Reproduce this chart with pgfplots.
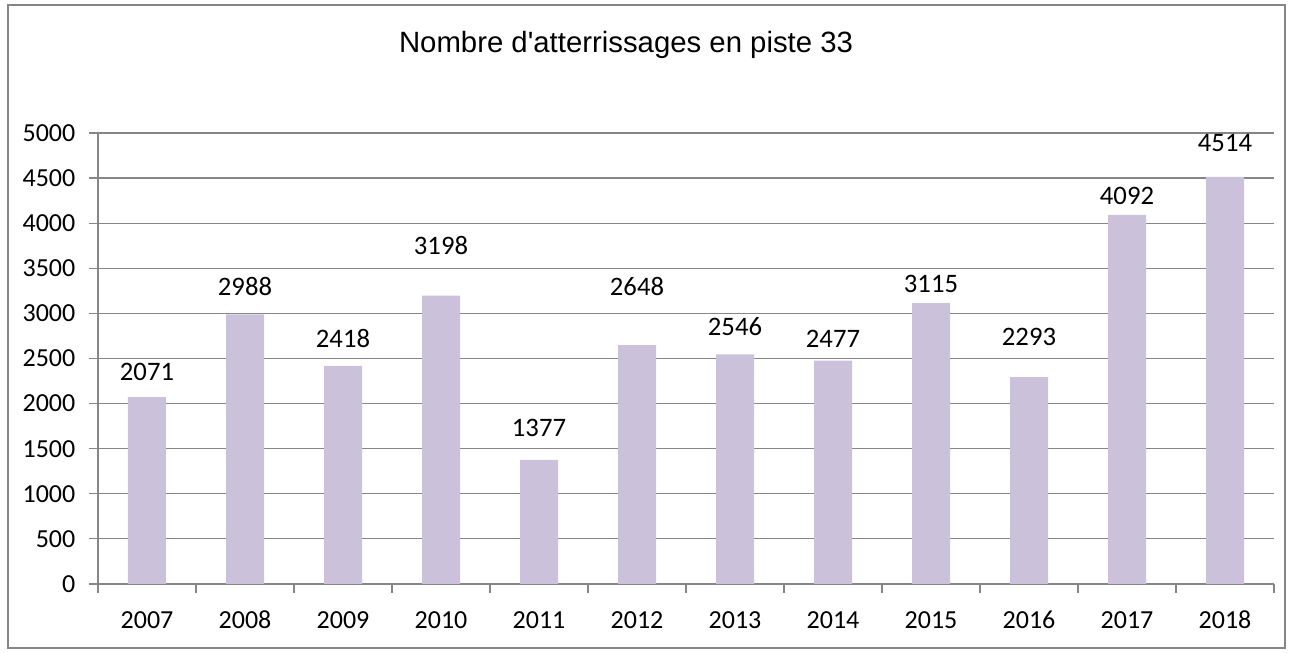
\documentclass[border=0pt]{standalone}
\usepackage{pgfplots}
\pgfplotsset{compat=1.18}
\usepackage{pgfplotstable}
\usepackage{fontspec}
\setmainfont{Carlito}
\newfontfamily\arial{Liberation Sans}
\definecolor{barc}{HTML}{CCC1DA}
\definecolor{gridc}{HTML}{868686}
\pgfplotstableread{
x y ly
0 2071 2350
1 2988 3293
2 2418 2716
3 3198 3747
4 1377 1729
5 2648 3293
6 2546 2849
7 2477 2716
8 3115 3326
9 2293 2738
10 4092 4302
11 4514 4889
}\datatab
\begin{document}
\begin{tikzpicture}
\begin{axis}[
  scale only axis,
  width=882pt, height=338.25pt,
  xmin=-0.5, xmax=11.5,
  ymin=0, ymax=5000,
  ytick={0,500,...,5000},
  xtick={-0.5,0.5,...,11.5},
  xticklabels={2007,2008,2009,2010,2011,2012,2013,2014,2015,2016,2017,2018},
  x tick label as interval,
  axis lines=left,
  axis line style={draw=gridc, line width=0.9pt, -},
  ymajorgrids,
  grid style={draw=gridc, line width=0.9pt},
  tick align=outside,
  major tick length=6.5pt,
  tick style={draw=gridc, line width=0.9pt},
  /pgf/number format/assume math mode=true,
  /pgf/number format/1000 sep={},
  ticklabel style={font=\fontsize{19.5}{21}\selectfont},
  yticklabel style={xshift=-7pt},
  xticklabel style={yshift=-10pt, text height=13pt, text depth=0pt},
  clip=false,
]
\addplot[ybar, bar width=28.5pt, bar shift=0pt, fill=barc, draw=none] table[x=x, y=y] {\datatab};
\addplot[draw=none, mark=none, nodes near coords, point meta=explicit symbolic,
  nodes near coords style={anchor=center, font=\fontsize{20}{22}\selectfont, text=black, text height=13pt, text depth=0pt}]
  table[x=x, y=ly, meta=y] {\datatab};
\node[font=\arial\fontsize{22}{24}\selectfont, anchor=center] at ([yshift=66pt]rel axis cs:0.449,1) {Nombre d'atterrissages en piste 33};
\end{axis}
\draw[gridc, line width=0.9pt] ([xshift=-67.5pt, yshift=-48pt]current axis.south west) rectangle ([xshift=8.25pt, yshift=96pt]current axis.north east);
\path ([xshift=-73.5pt, yshift=-51.75pt]current axis.south west) rectangle ([xshift=14.25pt, yshift=99.75pt]current axis.north east);
\end{tikzpicture}
\end{document}
